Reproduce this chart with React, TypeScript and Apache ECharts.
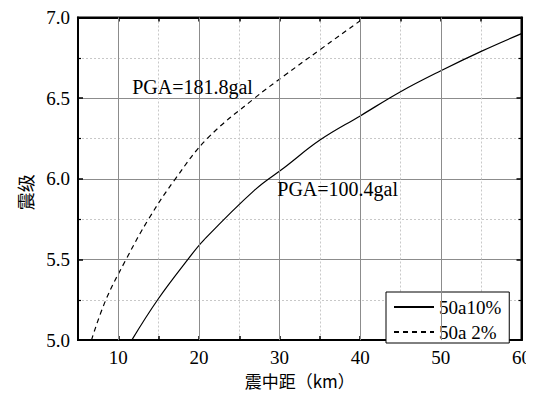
import React, { useEffect, useRef } from "react";
import * as echarts from "echarts";

// ---- data ----
const seriesNames = ["50a10%", "50a 2%"];
const distSolid = [11.67, 14.88, 18.63, 20.6, 26.9, 30.6, 35, 40, 45, 50, 55, 60];
const magSolid = [5.0, 5.25, 5.5, 5.62, 5.93, 6.07, 6.24, 6.39, 6.54, 6.67, 6.79, 6.9];
const distDashed = [6.67, 8.46, 10.96, 13.75, 17.08, 21.04, 26.9, 30.6, 35, 40, 40.6];
const magDashed = [5.0, 5.25, 5.5, 5.75, 6.0, 6.25, 6.5, 6.64, 6.8, 6.98, 7.0];
const majorX = [10, 20, 30, 40, 50];
const annotations = [
  { name: "PGA=100.4gal", coord: [37.2, 5.935] },
  { name: "PGA=181.8gal", coord: [19.2, 6.57] },
];
const xTitle = "震中距（km）";
const yTitle = "震级";

const SERIF = "Liberation Serif";
const CJK = "Noto Sans CJK SC";

export default function App() {
  const ref = useRef<HTMLDivElement>(null);
  useEffect(() => {
    if (!ref.current) return;
    const chart = echarts.init(ref.current, null, { renderer: "svg" });
    const pts = (xs: number[], ys: number[]) => xs.map((x, i) => [x, ys[i]]);
    const markLabel = { show: true, position: "inside", formatter: "{b}", color: "#000", fontFamily: SERIF, fontSize: 20 };
    const axisLine = () => ({ show: true, onZero: false, lineStyle: { color: "#000", width: 2 } });
    const tick = (len: number) => ({ show: true, inside: true, length: len, lineStyle: { color: "#000", width: 1.5 } });
    chart.setOption({
      animation: false,
      grid: { left: 68, right: 11, top: 8, bottom: 43, show: true, borderColor: "#000", borderWidth: 2 },
      legend: {
        orient: "vertical",
        left: 378,
        top: 284,
        data: seriesNames,
        itemWidth: 40,
        itemHeight: 14,
        itemGap: 5,
        padding: [5, 8, 1, 7],
        backgroundColor: "#fff",
        borderColor: "#000",
        borderWidth: 1,
        itemStyle: { opacity: 0 },
        textStyle: { fontFamily: SERIF, fontSize: 19, color: "#000", lineHeight: 20 },
      },
      xAxis: [
        {
          type: "value", min: 5, max: 60, interval: 5, position: "bottom",
          axisLine: axisLine(), axisTick: tick(4),
          axisLabel: { fontFamily: SERIF, fontSize: 19, color: "#000", formatter: (v: number) => (v % 10 === 0 ? String(v) : "") },
          splitLine: { show: true, lineStyle: { color: "#c8c8c8", type: [2, 2], width: 1 } },
          name: xTitle, nameLocation: "middle", nameGap: 24,
          nameTextStyle: { fontFamily: CJK, fontSize: 17, color: "#000" },
        },
        {
          type: "value", min: 5, max: 60, interval: 5, position: "top",
          axisLine: axisLine(), axisTick: tick(4), axisLabel: { show: false }, splitLine: { show: false },
        },
      ],
      yAxis: [
        {
          type: "value", min: 5, max: 7, interval: 0.5, position: "left",
          axisLine: axisLine(), axisTick: tick(5),
          minorTick: { show: true, splitNumber: 2, length: 3, lineStyle: { color: "#000", width: 1.2 } },
          axisLabel: { fontFamily: SERIF, fontSize: 19, color: "#000", formatter: (v: number) => v.toFixed(1) },
          splitLine: { show: true, lineStyle: { color: "#8c8c8c", width: 1 } },
          minorSplitLine: { show: true, lineStyle: { color: "#c8c8c8", type: [2, 2], width: 1 } },
          name: yTitle, nameLocation: "middle", nameGap: 44, nameRotate: 90,
          nameTextStyle: { fontFamily: CJK, fontSize: 18, color: "#000", padding: [0, 27, 0, 0] },
        },
        {
          type: "value", min: 5, max: 7, interval: 0.5, position: "right",
          axisLine: axisLine(), axisTick: tick(5),
          minorTick: { show: true, splitNumber: 2, length: 3, lineStyle: { color: "#000", width: 1.2 } },
          axisLabel: { show: false }, splitLine: { show: false },
        },
      ],
      series: [
        {
          name: seriesNames[0], type: "line", data: pts(distSolid, magSolid), smooth: 0.4, symbol: "none",
          lineStyle: { color: "#000", width: 1.2 }, itemStyle: { color: "#000" },
          markLine: {
            silent: true, symbol: ["none", "none"], label: { show: false },
            lineStyle: { color: "#8c8c8c", type: "solid", width: 1 },
            data: majorX.map((x) => ({ xAxis: x })),
          },
          markPoint: { symbol: "circle", symbolSize: 0, silent: true, label: markLabel, data: [annotations[0]] },
        },
        {
          name: seriesNames[1], type: "line", data: pts(distDashed, magDashed), smooth: 0.4, symbol: "none",
          lineStyle: { color: "#000", width: 1.2, type: [5, 4] }, itemStyle: { color: "#000" },
          markPoint: { symbol: "circle", symbolSize: 0, silent: true, label: markLabel, data: [annotations[1]] },
        },
      ],
    });
    return () => chart.dispose();
  }, []);
  return (
    <div>
      <div ref={ref} style={{ width: 526, height: 386 }} />
      <div style={{ height: 0, overflow: "hidden" }}> </div>
    </div>
  );
}
